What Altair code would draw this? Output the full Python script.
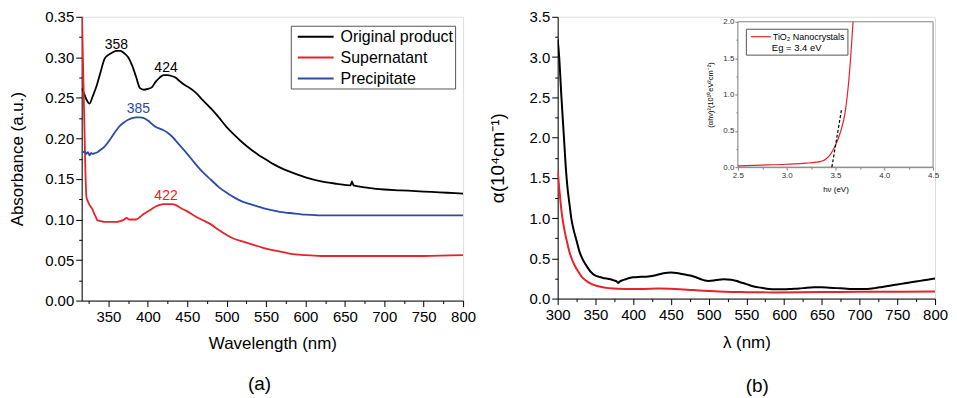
import altair as alt
import pandas as pd

FONT = "Liberation Sans"

# ---------------- Panel (a): absorbance spectra ----------------
series_a = ["Original product", "Supernatant", "Precipitate"]
colors_a = ["#000000", "#e8222a", "#2b4ca6"]

wl_orig = [316, 318, 322, 326, 330, 335, 340, 345, 350, 355, 360, 365, 370, 375, 380, 385,
           390, 395, 400, 405, 410, 415, 420, 425, 430, 435, 440, 445, 450, 455, 460, 470,
           480, 490, 500, 510, 520, 530, 540, 550, 560, 570, 580, 600, 620, 640, 657, 659,
           661, 680, 700, 720, 740, 760, 780, 800]
ab_orig = [0.262, 0.258, 0.248, 0.243, 0.252, 0.265, 0.282, 0.298, 0.303, 0.306, 0.308, 0.308,
           0.305, 0.300, 0.290, 0.276, 0.262, 0.260, 0.261, 0.263, 0.270, 0.275, 0.278, 0.278,
           0.277, 0.275, 0.271, 0.267, 0.264, 0.261, 0.257, 0.247, 0.237, 0.226, 0.214, 0.204,
           0.195, 0.187, 0.180, 0.174, 0.168, 0.163, 0.159, 0.152, 0.147, 0.144, 0.142, 0.147,
           0.142, 0.139, 0.137, 0.136, 0.135, 0.134, 0.133, 0.132]

wl_sup = [316, 318, 320, 321, 322, 324, 326, 328, 330, 332, 334, 336, 340, 345, 350, 355, 360,
          365, 370, 373, 376, 380, 385, 390, 395, 400, 405, 410, 415, 420, 425, 430, 435, 440,
          450, 460, 470, 480, 490, 500, 510, 520, 530, 540, 550, 560, 570, 580, 600, 620, 650,
          700, 750, 800]
ab_sup = [0.37, 0.28, 0.19, 0.15, 0.128, 0.122, 0.118, 0.115, 0.112, 0.107, 0.103, 0.099, 0.098,
          0.097, 0.097, 0.097, 0.097, 0.098, 0.100, 0.102, 0.100, 0.100, 0.100, 0.103, 0.107,
          0.110, 0.113, 0.116, 0.118, 0.119, 0.119, 0.119, 0.118, 0.115, 0.110, 0.104, 0.099,
          0.094, 0.087, 0.081, 0.076, 0.073, 0.070, 0.067, 0.064, 0.062, 0.060, 0.058, 0.056,
          0.055, 0.055, 0.055, 0.055, 0.056]

wl_prec = [316, 318, 320, 322, 324, 326, 328, 330, 333, 336, 340, 345, 350, 355, 360, 365, 370,
           375, 380, 385, 390, 395, 400, 405, 410, 415, 420, 425, 430, 440, 450, 460, 470, 480,
           490, 500, 510, 520, 530, 540, 550, 560, 570, 580, 600, 620, 650, 700, 750, 800]
ab_prec = [0.184, 0.183, 0.184, 0.181, 0.183, 0.179, 0.182, 0.181, 0.182, 0.183, 0.186, 0.190,
           0.196, 0.203, 0.210, 0.216, 0.220, 0.223, 0.225, 0.226, 0.226, 0.225, 0.222, 0.218,
           0.214, 0.212, 0.210, 0.207, 0.203, 0.192, 0.181, 0.169, 0.158, 0.149, 0.140, 0.133,
           0.127, 0.122, 0.119, 0.116, 0.113, 0.111, 0.109, 0.108, 0.106, 0.105, 0.105, 0.105,
           0.105, 0.105]

peak_labels = ["358", "424", "385", "422"]
peak_x = [360, 423, 388, 423]
peak_y = [0.3156, 0.2873, 0.2357, 0.129]
peak_colors = ["#000000", "#000000", "#2b4ca6", "#e8222a"]

xa_domain = [316, 800]
ya_domain = [0, 0.35]
xa_ticks = list(range(325, 801, 25))
ya_ticks = [round(i * 0.025, 3) for i in range(0, 15)]

# ---------------- Panel (b): absorption coefficient ----------------
series_b = ["black curve", "red curve"]
colors_b = ["#000000", "#e8222a"]

lam_black = [300, 302, 305, 308, 311, 313, 316, 318, 321, 325, 329, 333, 338, 344, 350, 355, 360,
             365, 370, 375, 378, 380, 382, 385, 390, 395, 400, 410, 420, 430, 440, 450, 460, 470,
             480, 490, 495, 500, 510, 520, 530, 540, 550, 560, 570, 580, 590, 600, 610, 620, 630,
             640, 650, 660, 670, 680, 690, 700, 710, 720, 730, 740, 750, 760, 770, 780, 790, 800]
alpha_black = [3.22, 3.0, 2.5, 2.05, 1.6, 1.38, 1.15, 1.0, 0.86, 0.72, 0.58, 0.49, 0.41, 0.33,
               0.285, 0.27, 0.257, 0.25, 0.24, 0.225, 0.215, 0.195, 0.21, 0.225, 0.24, 0.255,
               0.265, 0.27, 0.275, 0.29, 0.315, 0.325, 0.315, 0.295, 0.275, 0.24, 0.225, 0.22,
               0.23, 0.24, 0.235, 0.21, 0.18, 0.15, 0.135, 0.12, 0.115, 0.115, 0.12, 0.125, 0.135,
               0.14, 0.14, 0.135, 0.13, 0.125, 0.12, 0.118, 0.12, 0.13, 0.145, 0.16, 0.175, 0.19,
               0.205, 0.22, 0.235, 0.25]

lam_red = [300, 302, 304, 306, 309, 312, 315, 318, 322, 327, 332, 338, 344, 351, 360, 368, 380,
           390, 410, 434, 455, 480, 500, 522, 550, 587, 620, 674, 720, 800]
alpha_red = [1.59, 1.38, 1.18, 1.02, 0.85, 0.72, 0.60, 0.51, 0.42, 0.34, 0.27, 0.22, 0.185, 0.16,
             0.14, 0.13, 0.122, 0.12, 0.12, 0.125, 0.12, 0.106, 0.095, 0.085, 0.08, 0.077, 0.078,
             0.083, 0.085, 0.087]

xb_domain = [300, 800]
yb_domain = [0, 3.5]
xb_ticks = list(range(300, 801, 25))
yb_ticks = [round(i * 0.25, 2) for i in range(0, 15)]

# ---------------- Inset: Tauc plot ----------------
inset_label = "TiO\u2082 Nanocrystals"
hv = [2.5, 2.75, 3.0, 3.2, 3.3, 3.35, 3.4, 3.45, 3.5, 3.55, 3.6, 3.63, 3.655, 3.68]
tauc = [0.018, 0.028, 0.04, 0.055, 0.068, 0.08, 0.11, 0.18, 0.30, 0.48, 0.76, 1.1, 1.5, 2.0]
tangent_hv = [3.463, 3.564]
tangent_y = [0.0, 0.81]
xi_domain = [2.5, 4.5]
yi_domain = [0.0, 2.0]
xi_ticks = [2.5, 2.75, 3.0, 3.25, 3.5, 3.75, 4.0, 4.25, 4.5]
yi_ticks = [0.0, 0.25, 0.5, 0.75, 1.0, 1.25, 1.5, 1.75, 2.0]

# ---------------- layout sizes ----------------
WA, HA = 383, 285
WB, HB = 379, 283
INSET_X = [181, 377]
INSET_Y = [151, 5]


def axis(title, values, test, fmt, lab=15, tit=17, major=6, minor=3, color="black",
         labcolor="black", **kw):
    return alt.Axis(
        title=title, values=values, format=fmt,
        labelExpr=f"({test}) ? datum.label : ''",
        tickSize={"condition": {"test": test, "value": major}, "value": minor},
        grid=False, labelFlush=False, labelOverlap=False,
        domainColor=color, tickColor=color, labelColor=labcolor, titleColor="black",
        labelFontSize=lab, titleFontSize=tit, titleFontWeight="normal",
        labelFont=FONT, titleFont=FONT, **kw)


# ---- panel (a) chart ----
rows = []
for s, xs, ys in [(series_a[0], wl_orig, ab_orig), (series_a[1], wl_sup, ab_sup),
                  (series_a[2], wl_prec, ab_prec)]:
    rows += [{"series": s, "x": a, "y": b} for a, b in zip(xs, ys)]
df_a = pd.DataFrame(rows)
df_pk = pd.DataFrame({"x": peak_x, "y": peak_y, "t": peak_labels, "c": peak_colors})

xa = alt.X("x:Q", scale=alt.Scale(domain=xa_domain, nice=False, zero=False),
           axis=axis("Wavelength (nm)", xa_ticks, "datum.value % 50 == 0", "d",
                     labelPadding=3, titlePadding=11))
ya = alt.Y("y:Q", scale=alt.Scale(domain=ya_domain, nice=False),
           axis=axis("Absorbance (a.u.)", ya_ticks,
                     "abs(datum.value*20 - round(datum.value*20)) < 0.001", ".2f",
                     labelPadding=2, titlePadding=18))

lines_a = alt.Chart(df_a).mark_line(clip=True, strokeWidth=1.8, interpolate="monotone").encode(
    x=xa, y=ya,
    color=alt.Color("series:N", sort=series_a,
                    scale=alt.Scale(domain=series_a, range=colors_a),
                    legend=alt.Legend(title=None, orient="none", legendX=210, legendY=9,
                                      symbolType="M-2.25,0H2.25", symbolSize=256,
                                      symbolOffset=14, symbolStrokeWidth=2,
                                      labelFontSize=16, labelFont=FONT,
                                      labelColor="black", strokeColor="#555555",
                                      fillColor="white", padding=2, rowPadding=4,
                                      labelOffset=16)),
)
text_a = alt.Chart(df_pk).mark_text(fontSize=14, font=FONT).encode(
    x=xa, y=ya, text="t:N", fill=alt.Fill("c:N", scale=None))

chart_a = alt.layer(lines_a, text_a).properties(
    width=WA, height=HA,
    title=alt.TitleParams("(a)", orient="bottom", fontSize=19, font=FONT, fontWeight="normal",
                          frame="group", dx=-13, offset=24))

# ---- panel (b) chart ----
rows = []
for s, xs, ys in [(series_b[0], lam_black, alpha_black), (series_b[1], lam_red, alpha_red)]:
    rows += [{"series": s, "x": a, "y": b} for a, b in zip(xs, ys)]
df_b = pd.DataFrame(rows)

xb = alt.X("x:Q", scale=alt.Scale(domain=xb_domain, nice=False, zero=False),
           axis=axis("\u03bb (nm)", xb_ticks, "datum.value % 50 == 0", "d",
                     labelPadding=3, titlePadding=12))
yb = alt.Y("y:Q", scale=alt.Scale(domain=yb_domain, nice=False),
           axis=axis("\u03b1(10\u2074cm\u207b\u00b9)", yb_ticks, "datum.value % 0.5 == 0", ".1f",
                     tit=19, labelPadding=2, titlePadding=22))
lines_b = alt.Chart(df_b).mark_line(clip=True, strokeWidth=2, interpolate="monotone").encode(
    x=xb, y=yb,
    color=alt.Color("series:N", scale=alt.Scale(domain=series_b, range=colors_b), legend=None))

xi_scale = alt.Scale(domain=xi_domain, range=INSET_X, nice=False, zero=False)
yi_scale = alt.Scale(domain=yi_domain, range=INSET_Y, nice=False)

df_frame = pd.DataFrame({"x0": [xi_domain[0]], "x1": [xi_domain[1]],
                         "y0": [yi_domain[0]], "y1": [yi_domain[1]]})
frame_i = alt.Chart(df_frame).mark_rect(fill="white", stroke="#808080", strokeWidth=1).encode(
    x=alt.X("x0:Q", scale=xi_scale, axis=None), x2="x1:Q",
    y=alt.Y("y0:Q", scale=yi_scale, axis=None), y2="y1:Q")

df_i = pd.DataFrame({"x": hv, "y": tauc, "label": inset_label})
curve_i = alt.Chart(df_i).mark_line(strokeWidth=1.2, interpolate="monotone").encode(
    x=alt.X("x:Q", scale=xi_scale,
            axis=axis("h\u03bd (eV)", xi_ticks, "datum.value % 0.5 == 0", ".1f", lab=8, tit=8,
                      major=3, minor=2, color="#808080", labcolor="#333333",
                      orient="bottom", offset=INSET_Y[0] - HB, labelPadding=1,
                      titlePadding=6)),
    y=alt.Y("y:Q", scale=yi_scale,
            axis=axis("(\u03b1h\u03bd)\u00b2(10\u00b9\u2070eV\u00b2cm\u207b\u00b2)", yi_ticks,
                      "datum.value % 0.5 == 0", ".1f", lab=8, tit=7.5, major=3, minor=2,
                      color="#808080", labcolor="#333333", orient="left",
                      offset=-INSET_X[0], labelPadding=1, titlePadding=8)),
    color=alt.Color("label:N", scale=alt.Scale(domain=[inset_label], range=["#e8222a"]),
                    legend=alt.Legend(title="Eg = 3.4 eV", titleOrient="bottom",
                                      titleAnchor="middle", titleFontSize=9.5,
                                      titleFontWeight="normal", titleFont=FONT,
                                      titleColor="black", titlePadding=1,
                                      orient="none", legendX=189, legendY=12,
                                      symbolType="M-2,0H2", symbolSize=100, symbolOffset=7,
                                      symbolStrokeWidth=1.2, labelFontSize=9,
                                      labelFont=FONT, labelColor="black",
                                      strokeColor="#555555", fillColor="white", padding=2,
                                      labelOffset=6)),
)
df_t = pd.DataFrame({"x": tangent_hv, "y": tangent_y})
tangent_i = alt.Chart(df_t).mark_line(color="black", strokeDash=[3, 2], strokeWidth=1.2).encode(
    x=alt.X("x:Q", scale=xi_scale, axis=None),
    y=alt.Y("y:Q", scale=yi_scale, axis=None))

chart_b = alt.layer(lines_b, frame_i, curve_i, tangent_i).resolve_scale(
    x="independent", y="independent", color="independent").properties(
    width=WB, height=HB,
    title=alt.TitleParams("(b)", orient="bottom", fontSize=19, font=FONT, fontWeight="normal",
                          frame="group", dx=11, offset=27))

chart = alt.hconcat(chart_a, chart_b, spacing=10).resolve_scale(color="independent").properties(
    padding={"left": 0, "top": 0, "right": 0, "bottom": 0}
).configure_view(stroke="black", strokeWidth=1.2).configure(background="white")

chart.save("out.html", embed_options={"renderer": "svg", "actions": False})
